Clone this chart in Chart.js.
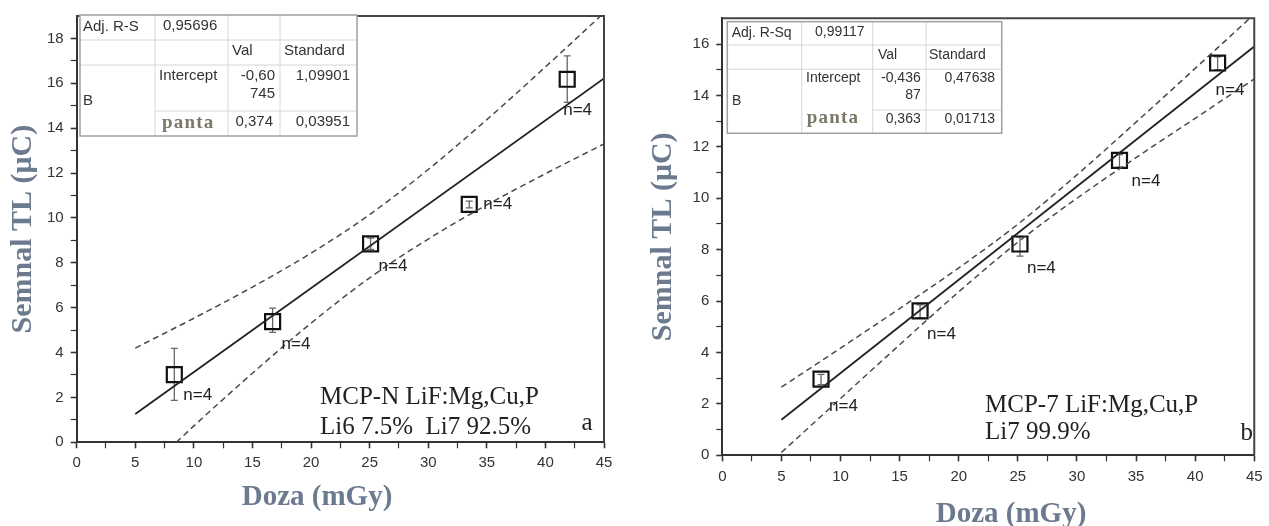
<!DOCTYPE html>
<html><head><meta charset="utf-8">
<script src="https://cdn.jsdelivr.net/npm/chart.js@4.4.1/dist/chart.umd.min.js"></script>
<style>
html,body{margin:0;padding:0;background:#fff;overflow:hidden;}
#wrap{position:relative;width:1269px;height:526px;background:#fff;}
#c1{position:absolute;left:0;top:0;}
#c2{position:absolute;left:640px;top:0;}
</style></head><body>
<div id="wrap">
<canvas id="c1" width="620" height="526"></canvas>
<canvas id="c2" width="629" height="526"></canvas>
</div>
<script>
// ---------- data ----------
const xTickLabels = [0, 5, 10, 15, 20, 25, 30, 35, 40, 45];
const leftYTickLabels = [0, 2, 4, 6, 8, 10, 12, 14, 16, 18];
const rightYTickLabels = [0, 2, 4, 6, 8, 10, 12, 14, 16];

// chart a: MCP-N
const leftX = [8.33, 16.72, 25.08, 33.5, 41.86];
const leftY = [3.02, 5.38, 8.84, 10.6, 16.18];
const leftErrLow = [1.87, 4.9, 8.6, 10.45, 15.15];
const leftErrHigh = [4.19, 5.98, 9.1, 10.75, 17.22];
const leftFitX = [5, 45];
const leftFitY = [1.26, 16.22];
const leftUpperX = [5, 10, 15, 20, 25, 30, 35, 40, 45];
const leftUpperY = [4.20, 5.53, 6.92, 8.43, 10.15, 12.16, 14.38, 16.73, 19.14];
const leftLowerX = [8.5, 10, 15, 20, 25, 30, 35, 40, 45];
const leftLowerY = [0, 0.73, 3.08, 5.31, 7.33, 9.06, 10.58, 11.97, 13.30];
const leftTableText = ['Adj. R-S', '0,95696', 'Val', 'Standard', 'Intercept', '-0,60', '745', '1,09901', 'B', 'panta', '0,374', '0,03951'];
const leftNote = ['MCP-N LiF:Mg,Cu,P', 'Li6 7.5%  Li7 92.5%'];

// chart b: MCP-7
const rightX = [8.35, 16.73, 25.18, 33.6, 41.9];
const rightY = [2.96, 5.62, 8.22, 11.47, 15.26];
const rightErrLow = [2.75, 5.35, 7.75, 11.2, 15.0];
const rightErrHigh = [3.15, 5.85, 8.5, 11.7, 15.5];
const rightFitX = [5, 45];
const rightFitY = [1.38, 15.90];
const rightUpperX = [5, 10, 15, 20, 25, 30, 35, 40, 45];
const rightUpperY = [2.65, 4.17, 5.71, 7.29, 8.99, 10.91, 12.96, 15.05, 17.16];
const rightLowerX = [5, 10, 15, 20, 25, 30, 35, 40, 45];
const rightLowerY = [0.11, 2.21, 4.30, 6.36, 8.29, 10.0, 11.58, 13.11, 14.64];
const rightTableText = ['Adj. R-Sq', '0,99117', 'Val', 'Standard', 'Intercept', '-0,436', '87', '0,47638', 'B', 'panta', '0,363', '0,01713'];
const rightNote = ['MCP-7 LiF:Mg,Cu,P', 'Li7 99.9%'];

const nLabel = 'n=4';
const xTitle = 'Doza (mGy)';
const yTitle = 'Semnal TL (\u03bcC)';

// ---------- styling ----------
const SANS = '"Liberation Sans", Arial, sans-serif';
const SERIF = '"Liberation Serif", "Times New Roman", serif';
const titleColor = '#6c7a8f';

function pts(xs, ys) { return xs.map((x, i) => ({x: x, y: ys[i]})); }

function makeDecor(cfg) {
  return {
    id: 'decor',
    beforeDatasetsDraw(chart) {
      const ctx = chart.ctx, xs = chart.scales.x, ys = chart.scales.y;
      ctx.save();
      ctx.strokeStyle = '#666';
      ctx.lineWidth = 1.3;
      cfg.px.forEach((x, i) => {
        const p = xs.getPixelForValue(x);
        const lo = ys.getPixelForValue(cfg.lo[i]);
        const hi = ys.getPixelForValue(cfg.hi[i]);
        ctx.beginPath();
        ctx.moveTo(p, lo); ctx.lineTo(p, hi);
        ctx.moveTo(p - 3.5, lo); ctx.lineTo(p + 3.5, lo);
        ctx.moveTo(p - 3.5, hi); ctx.lineTo(p + 3.5, hi);
        ctx.stroke();
      });
      ctx.restore();
    },
    afterDraw(chart) {
      const ctx = chart.ctx, a = chart.chartArea, xs = chart.scales.x, ys = chart.scales.y;
      ctx.save();
      // frame top/right
      ctx.strokeStyle = '#444';
      ctx.lineWidth = 2;
      ctx.beginPath();
      ctx.moveTo(a.left, a.top); ctx.lineTo(a.right, a.top); ctx.lineTo(a.right, a.bottom);
      ctx.stroke();
      // n=4 labels
      ctx.fillStyle = '#222';
      ctx.textBaseline = 'middle';
      ctx.textAlign = 'left';
      ctx.font = '17px ' + SANS;
      cfg.px.forEach((x, i) => {
        ctx.fillText(nLabel, xs.getPixelForValue(x) + cfg.nOff[i][0], ys.getPixelForValue(cfg.py[i]) + cfg.nOff[i][1]);
      });
      // sample note
      ctx.font = '25px ' + SERIF;
      cfg.note.forEach((t, i) => ctx.fillText(t, a.left + cfg.noteX, a.bottom - cfg.noteDy[i]));
      ctx.textAlign = 'center';
      ctx.fillText(cfg.letter, a.right - cfg.letterDx, a.bottom - cfg.letterDy);
      // x title
      ctx.font = 'bold 29px ' + SERIF;
      ctx.fillStyle = titleColor;
      ctx.fillText(xTitle, a.left + cfg.xTitleDx, cfg.xTitleY);
      // table
      const T = cfg.table;
      const c = T.cols, r = T.rows;
      ctx.fillStyle = '#fff';
      ctx.fillRect(c[0], r[0], c[c.length - 1] - c[0], r[r.length - 1] - r[0]);
      ctx.lineWidth = 1;
      ctx.strokeStyle = '#d6d6d6';
      ctx.beginPath();
      [1, 2].forEach(k => { ctx.moveTo(c[0], r[k]); ctx.lineTo(c[4], r[k]); });
      ctx.moveTo(c[T.partialFrom], r[3]); ctx.lineTo(c[4], r[3]);
      [1, 2, 3].forEach(k => { ctx.moveTo(c[k], r[0]); ctx.lineTo(c[k], r[4]); });
      ctx.stroke();
      ctx.strokeStyle = '#a0a0a0';
      ctx.lineWidth = 1.5;
      ctx.strokeRect(c[0], r[0], c[4] - c[0], r[4] - r[0]);
      cfg.tableText.forEach((t, i) => {
        const L = T.layout[i];
        ctx.textAlign = L[2];
        if (L[3] === 'serif') {
          ctx.font = 'bold ' + T.serifSize + 'px ' + SERIF;
          ctx.fillStyle = '#7c7868';
          ctx.letterSpacing = '1.2px';
        } else {
          ctx.font = T.size + 'px ' + SANS;
          ctx.fillStyle = '#333';
          ctx.letterSpacing = '0px';
        }
        ctx.fillText(t, L[0], L[1]);
      });
      ctx.letterSpacing = '0px';
      ctx.restore();
    }
  };
}

function makeChart(id, o) {
  return new Chart(document.getElementById(id), {
    type: 'scatter',
    data: {
      datasets: [
        {data: pts(o.fitX, o.fitY), showLine: true, borderColor: '#222', borderWidth: 1.8, pointRadius: 0},
        {data: pts(o.upX, o.upY), showLine: true, borderColor: '#4a4a4a', borderWidth: 1.5, borderDash: [6, 4], pointRadius: 0, cubicInterpolationMode: 'monotone'},
        {data: pts(o.loX, o.loY), showLine: true, borderColor: '#4a4a4a', borderWidth: 1.5, borderDash: [6, 4], pointRadius: 0, cubicInterpolationMode: 'monotone'},
        {data: pts(o.px, o.py), showLine: false, pointStyle: 'rect', pointRadius: 10.6, borderColor: '#111', borderWidth: 2.2, backgroundColor: 'rgba(0,0,0,0)'}
      ]
    },
    options: {
      responsive: false,
      animation: false,
      events: [],
      layout: {padding: o.padding},
      plugins: {legend: {display: false}, tooltip: {enabled: false}},
      scales: {
        x: {
          type: 'linear', min: 0, max: 45,
          ticks: {stepSize: 2.5, autoSkip: false, maxRotation: 0, color: '#333', padding: o.xPad,
            font: {family: SANS, size: 15},
            callback: v => xTickLabels.includes(v) ? String(v) : ''},
          grid: {drawOnChartArea: false, drawTicks: true, tickLength: 6, tickColor: '#333',
            tickWidth: c => (c.tick && c.tick.value % 5 === 0) ? 1.6 : 1.2},
          border: {display: true, color: '#333', width: 2},
          afterFit: s => { s.height = o.xHeight; }
        },
        y: {
          type: 'linear', min: 0, max: o.yMax,
          ticks: {stepSize: 1, autoSkip: false, color: '#333', padding: 7,
            font: {family: SANS, size: 15},
            callback: v => o.yLabels.includes(v) ? String(v) : ''},
          grid: {drawOnChartArea: false, drawTicks: true, tickLength: 6,
            tickColor: c => (c.tick && c.tick.value > o.yLabels[o.yLabels.length - 1]) ? 'rgba(0,0,0,0)' : '#333',
            tickWidth: c => (c.tick && c.tick.value % 2 === 0) ? 1.6 : 1.2},
          border: {display: true, color: '#333', width: 2},
          title: {display: true, text: yTitle, color: titleColor,
            font: {family: SERIF, size: 30, weight: 'bold'}, padding: {top: 5.3, bottom: 0}},
          afterFit: s => { s.width = o.yWidth; }
        }
      }
    },
    plugins: [makeDecor(o)]
  });
}

makeChart('c1', {
  fitX: leftFitX, fitY: leftFitY, upX: leftUpperX, upY: leftUpperY, loX: leftLowerX, loY: leftLowerY,
  px: leftX, py: leftY, lo: leftErrLow, hi: leftErrHigh,
  yMax: 19, yLabels: leftYTickLabels,
  padding: {top: 13.3, right: 16, bottom: 0, left: 0},
  xHeight: 83.7, yWidth: 76.7, xPad: 6,
  nOff: [[9, 21], [9, 22.6], [8, 22], [14, 0], [-4, 30.6]],
  note: leftNote, noteX: 243.3, noteDy: [45.3, 15.3],
  letter: 'a', letterDx: 17, letterDy: 19,
  xTitleDx: 240.3, xTitleY: 498,
  tableText: leftTableText,
  table: {
    cols: [80, 155, 228, 280, 357], rows: [15, 40, 65, 111, 136], partialFrom: 1,
    size: 15, serifSize: 19,
    layout: [[83, 26.7, 'left'], [163, 25.5, 'left'], [232, 50.7, 'left'], [284, 50.7, 'left'],
             [159, 76, 'left'], [275, 76, 'right'], [275, 94, 'right'], [350, 76, 'right'],
             [83, 101, 'left'], [162, 122.7, 'left', 'serif'], [273, 122, 'right'], [350, 122, 'right']]
  }
});

makeChart('c2', {
  fitX: rightFitX, fitY: rightFitY, upX: rightUpperX, upY: rightUpperY, loX: rightLowerX, loY: rightLowerY,
  px: rightX, py: rightY, lo: rightErrLow, hi: rightErrHigh,
  yMax: 17, yLabels: rightYTickLabels,
  padding: {top: 18.3, right: 9.7, bottom: 0, left: 0},
  xHeight: 70.7, yWidth: 82.3, xPad: 6.4,
  nOff: [[8, 27], [7, 23], [7, 24], [12, 21], [-2, 27]],
  note: rightNote, noteX: 262.7, noteDy: [50.3, 22.6],
  letter: 'b', letterDx: 7.6, letterDy: 22,
  xTitleDx: 288.7, xTitleY: 515,
  tableText: rightTableText,
  table: {
    cols: [87.3, 161.7, 232.7, 286, 361.7], rows: [21.7, 45, 69.3, 110, 133.3], partialFrom: 2,
    size: 14, serifSize: 19,
    layout: [[91.7, 33.3, 'left'], [175, 31.7, 'left'], [238, 55, 'left'], [289, 55, 'left'],
             [166, 78.3, 'left'], [280.7, 78.3, 'right'], [280.7, 95, 'right'], [355, 78.3, 'right'],
             [92, 100.7, 'left'], [166.7, 118.3, 'left', 'serif'], [280.7, 119.3, 'right'], [355, 119.3, 'right']]
  }
});
</script>
</body></html>
